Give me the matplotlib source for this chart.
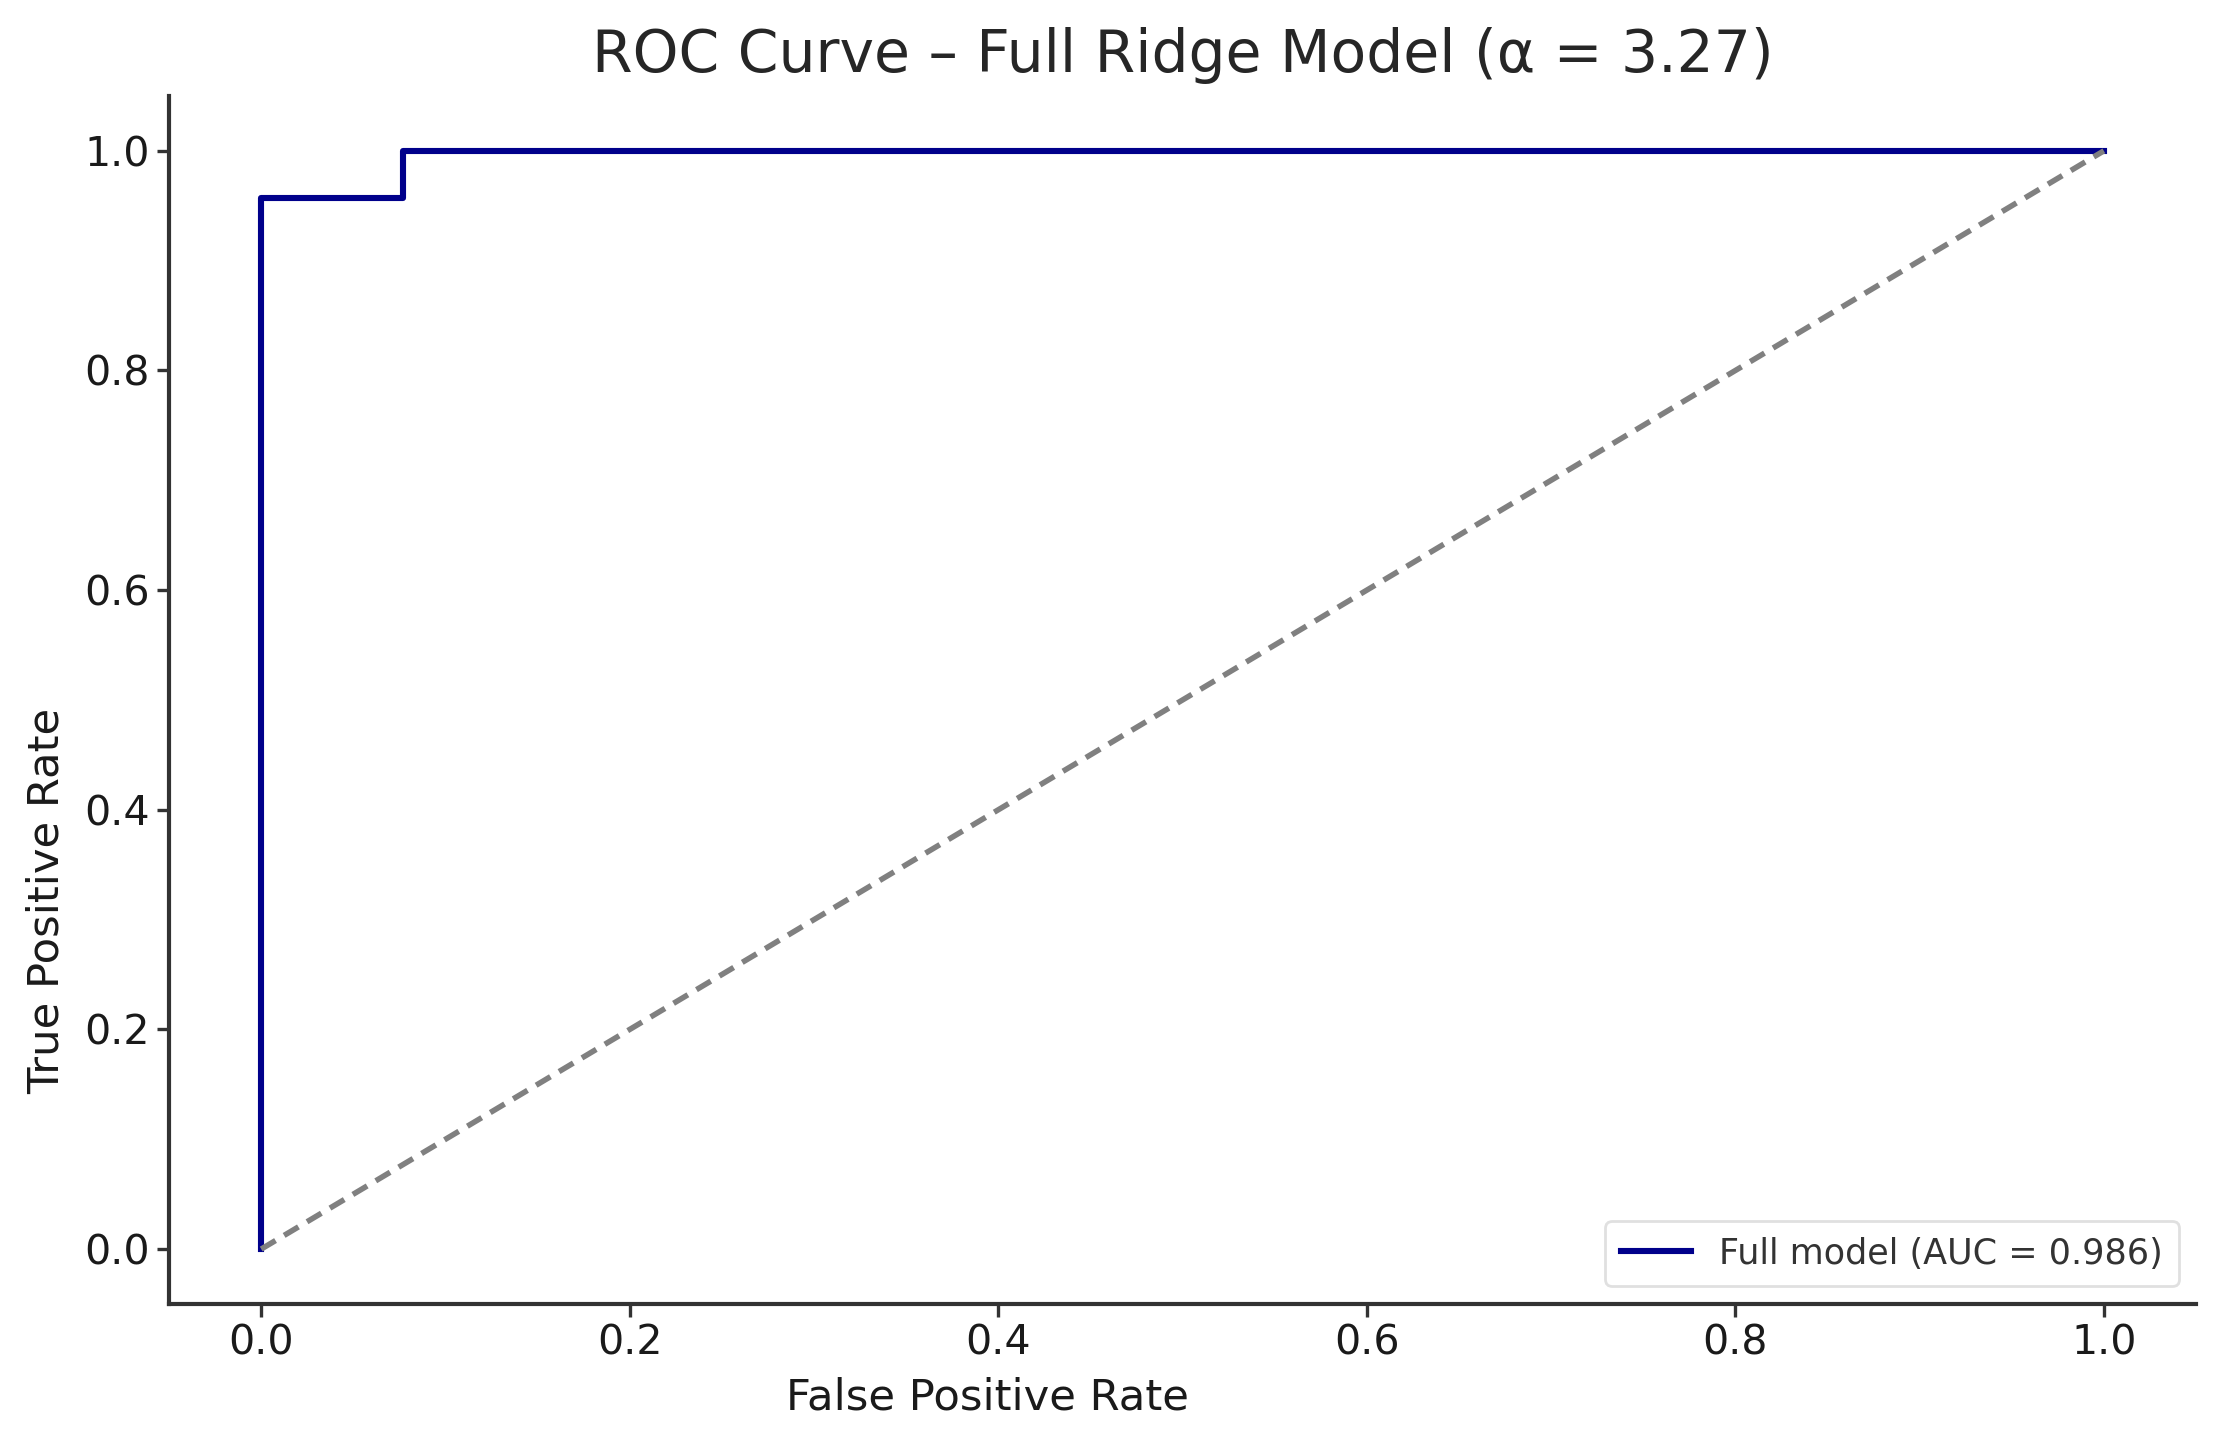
import numpy as np
import matplotlib
matplotlib.use("Agg")
import matplotlib.pyplot as plt

# ROC points
fpr = [0.0, 0.0, 0.077, 0.077, 1.0]
tpr = [0.0, 0.957, 0.957, 1.0, 1.0]
chance = [0.0, 1.0]
auc_label = "Full model (AUC = 0.986)"
title = "ROC Curve – Full Ridge Model (α = 3.27)"
ticks = [0.0, 0.2, 0.4, 0.6, 0.8, 1.0]

plt.rcParams.update({
    "font.family": "DejaVu Sans",
    "axes.spines.top": False,
    "axes.spines.right": False,
    "axes.edgecolor": "#333333",
    "axes.linewidth": 1.5,
    "xtick.major.width": 1.2,
    "ytick.major.width": 1.2,
    "xtick.major.size": 4.5,
    "ytick.major.size": 4.5,
    "xtick.major.pad": 2.5,
    "ytick.major.pad": 2.5,
    "xtick.color": "#333333",
    "ytick.color": "#333333",
    "xtick.labelcolor": "#1a1a1a",
    "ytick.labelcolor": "#1a1a1a",
})

fig = plt.figure(figsize=(11.11, 7.16), dpi=200)
ax = fig.add_axes([0.0761, 0.0894, 0.9122, 0.8436])

ax.plot(fpr, tpr, color="#00008b", lw=2.2, label=auc_label)
ax.plot(chance, chance, color="gray", lw=2.0, ls=(0, (3.0, 1.8)))

ax.set_xticks(ticks)
ax.set_yticks(ticks)
ax.tick_params(labelsize=14.8)
ax.set_xlabel("False Positive Rate", fontsize=15.6, color="#1a1a1a")
ax.set_ylabel("True Positive Rate", fontsize=15.6, color="#1a1a1a")
# labels sit off-centre in the reference
ax.xaxis.set_label_coords(0.4037, -0.060)
ax.yaxis.set_label_coords(-0.050, 0.334)
ax.set_title(title, fontsize=21, color="#262626", pad=8.5)

leg = ax.legend(loc="lower right", fontsize=12.6, frameon=True, borderpad=0.45,
                handlelength=2.0)
leg.get_frame().set_edgecolor("#d9d9d9")
for t in leg.get_texts():
    t.set_color("#333333")

fig.savefig("out.png", dpi=200)
